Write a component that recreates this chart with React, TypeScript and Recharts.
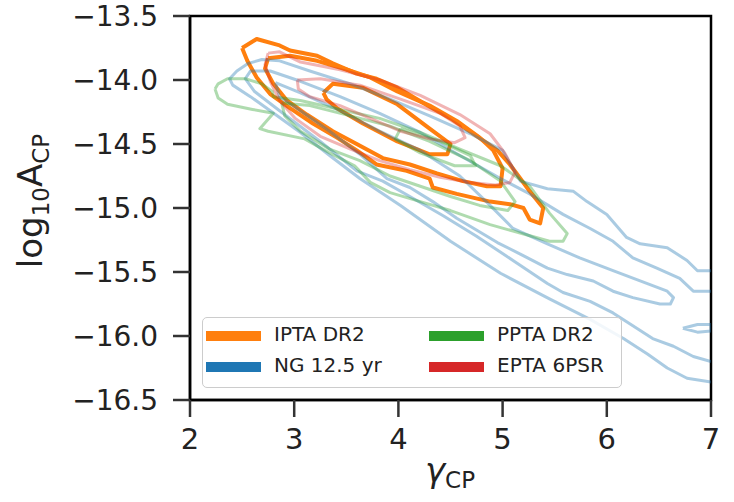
import React from "react";
import {
  ComposedChart,
  Scatter,
  XAxis,
  YAxis,
  ReferenceArea,
} from "recharts";

type Pt = { x: number; y: number };

// contour levels (gamma_CP, log10 A_CP)
const iptaOuter: Pt[] = [
  { x: 2.5, y: -13.75 }, { x: 2.64, y: -13.68 }, { x: 2.86, y: -13.73 }, { x: 2.96, y: -13.77 },
  { x: 3.22, y: -13.81 }, { x: 3.37, y: -13.87 }, { x: 3.6, y: -13.95 }, { x: 3.79, y: -13.99 },
  { x: 3.99, y: -14.06 }, { x: 4.24, y: -14.18 }, { x: 4.5, y: -14.3 }, { x: 4.72, y: -14.42 },
  { x: 4.95, y: -14.55 }, { x: 5.07, y: -14.66 }, { x: 5.17, y: -14.77 }, { x: 5.26, y: -14.87 },
  { x: 5.39, y: -15.0 }, { x: 5.36, y: -15.12 }, { x: 5.26, y: -15.09 }, { x: 5.2, y: -15.0 },
  { x: 5.07, y: -14.97 }, { x: 4.88, y: -14.95 }, { x: 4.56, y: -14.89 }, { x: 4.33, y: -14.84 },
  { x: 4.3, y: -14.77 }, { x: 4.08, y: -14.71 }, { x: 3.79, y: -14.66 }, { x: 3.6, y: -14.55 },
  { x: 3.41, y: -14.45 }, { x: 3.18, y: -14.34 }, { x: 2.96, y: -14.22 }, { x: 2.77, y: -14.11 },
  { x: 2.64, y: -13.98 }, { x: 2.55, y: -13.85 },
];
const iptaMid: Pt[] = [
  { x: 2.75, y: -13.83 }, { x: 2.96, y: -13.81 }, { x: 3.22, y: -13.85 }, { x: 3.47, y: -13.91 },
  { x: 3.73, y: -13.98 }, { x: 3.99, y: -14.09 }, { x: 4.3, y: -14.2 }, { x: 4.56, y: -14.32 },
  { x: 4.78, y: -14.45 }, { x: 4.91, y: -14.55 }, { x: 5.0, y: -14.69 }, { x: 4.98, y: -14.83 },
  { x: 4.85, y: -14.83 }, { x: 4.62, y: -14.79 }, { x: 4.37, y: -14.73 }, { x: 4.11, y: -14.66 },
  { x: 3.85, y: -14.61 }, { x: 3.6, y: -14.5 }, { x: 3.37, y: -14.4 }, { x: 3.12, y: -14.27 },
  { x: 2.93, y: -14.16 }, { x: 2.8, y: -14.03 }, { x: 2.72, y: -13.91 },
];
const iptaInner: Pt[] = [
  { x: 3.28, y: -14.1 }, { x: 3.37, y: -14.03 }, { x: 3.66, y: -14.06 }, { x: 3.99, y: -14.19 },
  { x: 4.3, y: -14.38 }, { x: 4.5, y: -14.5 }, { x: 4.47, y: -14.58 }, { x: 4.3, y: -14.58 },
  { x: 3.99, y: -14.48 }, { x: 3.66, y: -14.34 }, { x: 3.41, y: -14.22 }, { x: 3.31, y: -14.15 },
];

const ngOuter: Pt[] = [
  { x: 7.0, y: -15.49 }, { x: 6.87, y: -15.49 }, { x: 6.77, y: -15.41 }, { x: 6.58, y: -15.31 },
  { x: 6.32, y: -15.28 }, { x: 6.19, y: -15.23 }, { x: 6.0, y: -15.05 }, { x: 5.81, y: -14.95 },
  { x: 5.68, y: -14.87 }, { x: 5.43, y: -14.85 }, { x: 5.17, y: -14.79 }, { x: 5.0, y: -14.55 },
  { x: 4.69, y: -14.42 }, { x: 4.3, y: -14.28 }, { x: 3.92, y: -14.15 }, { x: 3.54, y: -14.03 },
  { x: 3.15, y: -13.93 }, { x: 2.86, y: -13.85 }, { x: 2.69, y: -13.84 }, { x: 2.56, y: -13.87 },
  { x: 2.45, y: -13.93 }, { x: 2.38, y: -13.99 }, { x: 2.41, y: -14.04 }, { x: 2.58, y: -14.13 },
  { x: 2.77, y: -14.24 }, { x: 3.06, y: -14.41 }, { x: 3.34, y: -14.59 }, { x: 3.63, y: -14.77 },
  { x: 4.02, y: -14.98 }, { x: 4.5, y: -15.26 }, { x: 4.98, y: -15.51 }, { x: 5.45, y: -15.71 },
  { x: 5.84, y: -15.87 }, { x: 6.16, y: -16.02 }, { x: 6.39, y: -16.14 }, { x: 6.58, y: -16.25 },
  { x: 6.77, y: -16.33 }, { x: 7.0, y: -16.36 },
];
const ngMid: Pt[] = [
  { x: 7.0, y: -15.65 }, { x: 6.83, y: -15.65 }, { x: 6.7, y: -15.55 }, { x: 6.48, y: -15.47 },
  { x: 6.25, y: -15.39 }, { x: 6.06, y: -15.26 }, { x: 5.84, y: -15.16 }, { x: 5.58, y: -15.05 },
  { x: 5.26, y: -14.89 }, { x: 4.98, y: -14.77 }, { x: 4.59, y: -14.59 }, { x: 4.21, y: -14.41 },
  { x: 3.82, y: -14.26 }, { x: 3.44, y: -14.13 }, { x: 3.06, y: -14.01 }, { x: 2.77, y: -13.93 },
  { x: 2.58, y: -13.93 }, { x: 2.53, y: -13.99 }, { x: 2.62, y: -14.09 }, { x: 2.86, y: -14.24 },
  { x: 3.25, y: -14.48 }, { x: 3.6, y: -14.71 }, { x: 3.85, y: -14.79 }, { x: 4.11, y: -14.91 },
  { x: 4.43, y: -15.06 }, { x: 4.75, y: -15.22 }, { x: 5.1, y: -15.41 }, { x: 5.43, y: -15.59 },
  { x: 5.58, y: -15.66 }, { x: 5.84, y: -15.73 }, { x: 6.06, y: -15.82 }, { x: 6.25, y: -15.92 },
  { x: 6.44, y: -16.02 }, { x: 6.64, y: -16.08 }, { x: 6.83, y: -16.16 }, { x: 7.0, y: -16.2 },
];
const ngInner: Pt[] = [
  { x: 2.82, y: -14.02 }, { x: 3.06, y: -14.1 }, { x: 3.44, y: -14.24 }, { x: 3.82, y: -14.4 },
  { x: 4.21, y: -14.55 }, { x: 4.59, y: -14.75 }, { x: 4.88, y: -14.98 }, { x: 5.1, y: -15.16 },
  { x: 5.43, y: -15.28 }, { x: 5.74, y: -15.39 }, { x: 6.06, y: -15.49 }, { x: 6.32, y: -15.57 },
  { x: 6.58, y: -15.65 }, { x: 6.64, y: -15.7 }, { x: 6.61, y: -15.75 }, { x: 6.51, y: -15.75 },
  { x: 6.25, y: -15.7 }, { x: 6.06, y: -15.65 }, { x: 5.87, y: -15.57 }, { x: 5.62, y: -15.52 },
  { x: 5.43, y: -15.47 }, { x: 5.17, y: -15.36 }, { x: 4.95, y: -15.27 }, { x: 4.56, y: -15.08 },
  { x: 4.33, y: -14.95 }, { x: 4.11, y: -14.84 }, { x: 3.89, y: -14.77 }, { x: 3.63, y: -14.58 },
  { x: 3.34, y: -14.4 }, { x: 3.06, y: -14.24 }, { x: 2.86, y: -14.13 },
];
const ngIsland: Pt[] = [
  { x: 6.73, y: -15.94 }, { x: 6.87, y: -15.91 }, { x: 7.0, y: -15.91 },
  { x: 7.0, y: -15.96 }, { x: 6.87, y: -15.97 },
];

const pptaOuter: Pt[] = [
  { x: 2.24, y: -14.07 }, { x: 2.27, y: -14.03 }, { x: 2.36, y: -13.99 }, { x: 2.53, y: -13.99 },
  { x: 2.69, y: -14.03 }, { x: 2.79, y: -14.09 }, { x: 2.8, y: -14.13 }, { x: 3.06, y: -14.16 },
  { x: 3.44, y: -14.23 }, { x: 3.82, y: -14.3 }, { x: 4.21, y: -14.41 }, { x: 4.59, y: -14.54 },
  { x: 4.98, y: -14.67 }, { x: 5.26, y: -14.83 }, { x: 5.45, y: -15.04 }, { x: 5.62, y: -15.2 },
  { x: 5.58, y: -15.26 }, { x: 5.45, y: -15.26 }, { x: 5.1, y: -15.18 }, { x: 4.88, y: -15.13 },
  { x: 4.5, y: -15.02 }, { x: 4.21, y: -14.95 }, { x: 3.92, y: -14.88 }, { x: 3.73, y: -14.8 },
  { x: 3.58, y: -14.67 }, { x: 3.34, y: -14.57 }, { x: 3.1, y: -14.46 }, { x: 2.75, y: -14.4 },
  { x: 2.67, y: -14.38 }, { x: 2.8, y: -14.26 }, { x: 2.6, y: -14.23 }, { x: 2.36, y: -14.19 },
  { x: 2.27, y: -14.14 },
];
const pptaMid: Pt[] = [
  { x: 2.88, y: -14.18 }, { x: 3.15, y: -14.2 }, { x: 3.54, y: -14.28 }, { x: 3.92, y: -14.36 },
  { x: 4.3, y: -14.48 }, { x: 4.69, y: -14.63 }, { x: 4.98, y: -14.79 }, { x: 5.12, y: -14.95 },
  { x: 5.05, y: -15.02 }, { x: 4.78, y: -14.98 }, { x: 4.5, y: -14.91 }, { x: 4.21, y: -14.83 },
  { x: 3.92, y: -14.75 }, { x: 3.63, y: -14.63 }, { x: 3.34, y: -14.54 }, { x: 3.06, y: -14.4 },
  { x: 2.91, y: -14.28 },
];
const pptaInner: Pt[] = [
  { x: 4.02, y: -14.38 }, { x: 4.4, y: -14.48 }, { x: 4.69, y: -14.59 }, { x: 4.74, y: -14.67 },
  { x: 4.54, y: -14.67 }, { x: 4.21, y: -14.57 }, { x: 3.97, y: -14.46 },
];

const eptaOuter: Pt[] = [
  { x: 2.75, y: -13.79 }, { x: 2.86, y: -13.78 }, { x: 3.06, y: -13.86 }, { x: 3.44, y: -13.92 },
  { x: 3.82, y: -14.0 }, { x: 4.21, y: -14.12 }, { x: 4.59, y: -14.27 }, { x: 4.88, y: -14.42 },
  { x: 5.02, y: -14.57 }, { x: 5.12, y: -14.72 }, { x: 5.07, y: -14.8 }, { x: 4.93, y: -14.82 },
  { x: 4.69, y: -14.8 }, { x: 4.4, y: -14.76 }, { x: 4.11, y: -14.7 }, { x: 3.82, y: -14.63 },
  { x: 3.54, y: -14.54 }, { x: 3.25, y: -14.44 }, { x: 3.01, y: -14.3 }, { x: 2.86, y: -14.16 },
  { x: 2.77, y: -14.01 }, { x: 2.72, y: -13.88 },
];
const eptaInner: Pt[] = [
  { x: 3.03, y: -14.0 }, { x: 3.25, y: -13.99 }, { x: 3.63, y: -14.04 }, { x: 4.02, y: -14.15 },
  { x: 4.4, y: -14.26 }, { x: 4.59, y: -14.36 }, { x: 4.64, y: -14.45 }, { x: 4.54, y: -14.49 },
  { x: 4.3, y: -14.46 }, { x: 4.02, y: -14.4 }, { x: 3.73, y: -14.3 }, { x: 3.44, y: -14.2 },
  { x: 3.15, y: -14.13 }, { x: 3.04, y: -14.07 },
];

const xTicks = [2, 3, 4, 5, 6, 7];
const yTicks = [-16.5, -16, -15.5, -15, -14.5, -14, -13.5];

const ORANGE = "#ff7f0e";
const BLUE = "#1f77b4";
const GREEN = "#2ca02c";
const RED = "#d62728";

const closeLoop = (pts: Pt[]) => [...pts, pts[0]];

const contours = [
  { id: "ipta-outer", data: closeLoop(iptaOuter), color: ORANGE, width: 4, opacity: 1 },
  { id: "ipta-mid", data: closeLoop(iptaMid), color: ORANGE, width: 4, opacity: 1 },
  { id: "ipta-inner", data: closeLoop(iptaInner), color: ORANGE, width: 4, opacity: 1 },
  { id: "ng-outer", data: ngOuter, color: BLUE, width: 3, opacity: 0.38 },
  { id: "ng-mid", data: ngMid, color: BLUE, width: 3, opacity: 0.38 },
  { id: "ng-inner", data: closeLoop(ngInner), color: BLUE, width: 3, opacity: 0.38 },
  { id: "ng-island", data: closeLoop(ngIsland), color: BLUE, width: 3, opacity: 0.38 },
  { id: "ppta-outer", data: closeLoop(pptaOuter), color: GREEN, width: 3, opacity: 0.38 },
  { id: "ppta-mid", data: closeLoop(pptaMid), color: GREEN, width: 3, opacity: 0.38 },
  { id: "ppta-inner", data: closeLoop(pptaInner), color: GREEN, width: 3, opacity: 0.38 },
  { id: "epta-outer", data: closeLoop(eptaOuter), color: RED, width: 3, opacity: 0.35 },
  { id: "epta-inner", data: closeLoop(eptaInner), color: RED, width: 3, opacity: 0.35 },
];

const legendItems = [
  { label: "IPTA DR2", color: ORANGE, left: 3, top: 0 },
  { label: "NG 12.5 yr", color: BLUE, left: 3, top: 31 },
  { label: "PPTA DR2", color: GREEN, left: 226, top: 0 },
  { label: "EPTA 6PSR", color: RED, left: 226, top: 31 },
];

const FONT = "'DejaVu Sans', sans-serif";
const NoDot = () => <g />;
const fmt = (v: number) => `${v}`;
const fmtY = (v: number) => v.toFixed(1).replace("-", "\u2212");

const App: React.FC = () => {
  return (
    <div style={{ position: "absolute", left: 0, top: 0, width: 734, height: 502, background: "#fff" }}>
      <ComposedChart
        width={734}
        height={502}
        margin={{ top: 16, right: 23, bottom: 0, left: 0 }}
      >
        <XAxis
          dataKey="x"
          type="number"
          domain={[2, 7]}
          ticks={xTicks}
          interval={0}
          tickFormatter={fmt}
          height={102}
          tickSize={17}
          tickMargin={11}
          axisLine={{ stroke: "#000", strokeWidth: 2.5 }}
          tickLine={{ stroke: "#333", strokeWidth: 2.5 }}
          tick={{ fontSize: 29, fill: "#222", fontFamily: FONT }}
          allowDataOverflow
          label={{
            content: () => (
              <text x={450} y={482} textAnchor="middle" fontFamily={FONT} fill="#222">
                <tspan fontSize={34} fontStyle="italic">γ</tspan>
                <tspan fontSize={23} dy={6}>CP</tspan>
              </text>
            ),
          }}
        />
        <YAxis
          dataKey="y"
          type="number"
          domain={[-16.5, -13.5]}
          ticks={yTicks}
          interval={0}
          tickFormatter={fmtY}
          width={190}
          tickSize={17}
          tickMargin={15}
          axisLine={{ stroke: "#000", strokeWidth: 2.5 }}
          tickLine={{ stroke: "#333", strokeWidth: 2.5 }}
          tick={{ fontSize: 28, fill: "#222", fontFamily: FONT }}
          allowDataOverflow
          label={{
            content: () => (
              <text
                x={42}
                y={201}
                textAnchor="middle"
                transform="rotate(-90, 42, 201)"
                fontFamily={FONT}
                fill="#222"
              >
                <tspan fontSize={34}>log</tspan>
                <tspan fontSize={23} dy={7}>10</tspan>
                <tspan fontSize={34} dy={-7}>A</tspan>
                <tspan fontSize={23} dy={7}>CP</tspan>
              </text>
            ),
          }}
        />
        {contours.map((c) => (
          <Scatter
            key={c.id}
            data={c.data}
            fill={c.color}
            shape={NoDot}
            line={{ stroke: c.color, strokeWidth: c.width, strokeOpacity: c.opacity, strokeLinejoin: "round" }}
            lineType="joint"
            isAnimationActive={false}
          />
        ))}
        <ReferenceArea
          x1={2}
          x2={7}
          y1={-16.5}
          y2={-13.5}
          fill="none"
          fillOpacity={0}
          stroke="#000"
          strokeWidth={2.5}
          strokeOpacity={1}
        />
      </ComposedChart>

      <div
        style={{
          position: "absolute",
          left: 202,
          top: 317,
          width: 418,
          height: 69,
          border: "1.5px solid #cccccc",
          borderRadius: 5,
          background: "rgba(255,255,255,0.85)",
          fontFamily: FONT,
          fontSize: 20,
          color: "#222",
        }}
      >
        {legendItems.map((item) => (
          <div key={item.label}>
            <div
              style={{
                position: "absolute",
                left: item.left,
                top: item.top + 13,
                width: 55,
                height: 10,
                background: item.color,
              }}
            />
            <div
              style={{
                position: "absolute",
                left: item.left + 68,
                top: item.top + 6,
                lineHeight: "20px",
                whiteSpace: "nowrap",
              }}
            >
              {item.label}
            </div>
          </div>
        ))}
      </div>
    </div>
  );
};

export default App;
